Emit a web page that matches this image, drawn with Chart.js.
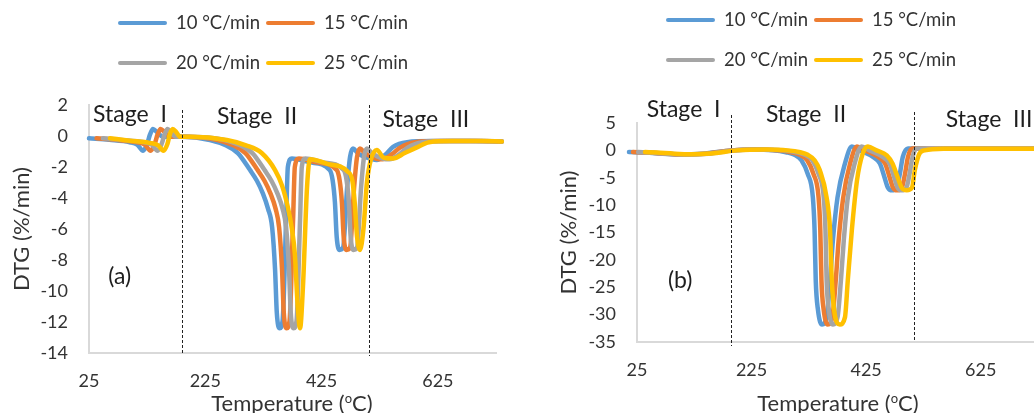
<!DOCTYPE html>
<html>
<head>
<meta charset="utf-8">
<title>DTG curves</title>
<script src="https://cdn.jsdelivr.net/npm/chart.js@4/dist/chart.umd.min.js"></script>
<style>
  body { margin: 0; background: #fff; }
  #wrap { position: relative; width: 1034px; height: 413px; overflow: hidden; font-family: Lato, sans-serif; color: #333; }
  canvas { position: absolute; top: 0; }
  #chartA { left: 0; }
  #chartB { left: 517px; }
  .legText { position: absolute; font-size: 18.5px; line-height: 20px; white-space: nowrap; }
  .legLine { position: absolute; height: 4px; border-radius: 2px; }
  .xtitle { position: absolute; font-size: 22px; line-height: 22px; white-space: nowrap; transform: translateX(-50%); }
  .xtitle sup { font-size: 13px; vertical-align: 8px; line-height: 0; }
</style>
</head>
<body>
<div id="wrap">
  <canvas id="chartA" width="517" height="413"></canvas>
  <canvas id="chartB" width="533" height="413"></canvas>
  <div class="xtitle" style="left:292px; top:392px">Temperature (<sup>o</sup>C)</div>
  <div class="xtitle" style="left:838px; top:392px">Temperature (<sup>o</sup>C)</div>
</div>
<script>
// series
const seriesNames = ["10 °C/min", "15 °C/min", "20 °C/min", "25 °C/min"];
const seriesColors = ["#5B9BD5", "#ED7D31", "#A5A5A5", "#FFC000"];

// axis ticks
const xTicks = [25, 225, 425, 625];
const yTicksA = [2, 0, -2, -4, -6, -8, -10, -12, -14];
const yTicksB = [5, 0, -5, -10, -15, -20, -25, -30, -35];

// stage boundaries (temperature)
const stageNames = ["Stage  I", "Stage  II", "Stage  III"];
const stagesA = [185, 507];
const stagesB = [189, 508];

// panel (a)
const tempA10 = [25, 60, 95, 108, 118, 125, 130, 135, 142, 152, 185, 233, 260, 281, 302, 314, 324, 333, 340, 345, 348, 353, 358, 364, 367, 374, 405, 439, 444, 448, 451, 456, 462, 469, 474, 479, 487, 496, 508, 520, 535, 548, 572, 616, 680, 735];
const dtgA10 = [-0.15, -0.25, -0.4, -0.55, -0.95, -0.5, 0.1, 0.45, 0.25, -0.05, -0.05, -0.26, -0.6, -1.1, -2.2, -2.9, -3.7, -4.7, -5.9, -8.6, -11.4, -12.4, -11.9, -5.4, -2.0, -1.45, -1.7, -2.2, -2.85, -4.3, -6.5, -7.35, -7.2, -3.3, -1.35, -0.8, -1.1, -1.3, -1.45, -1.55, -1.2, -0.7, -0.4, -0.33, -0.33, -0.35];
const tempA15 = [38, 70, 108, 121, 131, 138, 143, 148, 155, 164, 190, 246, 273, 294, 315, 327, 337, 346, 352, 357, 360, 365, 370, 376, 379, 386, 416, 451, 456, 460, 463, 468, 474, 481, 486, 491, 499, 508, 518, 530, 545, 560, 585, 630, 690, 735];
const dtgA15 = [-0.15, -0.25, -0.4, -0.55, -0.95, -0.5, 0.1, 0.45, 0.25, -0.05, -0.05, -0.26, -0.6, -1.1, -2.2, -2.9, -3.7, -4.7, -5.9, -8.6, -11.4, -12.4, -11.9, -5.4, -2.0, -1.45, -1.7, -2.2, -2.85, -4.3, -6.5, -7.35, -7.2, -3.3, -1.35, -0.8, -1.1, -1.3, -1.45, -1.5, -1.2, -0.75, -0.4, -0.33, -0.33, -0.35];
const tempA20 = [49, 80, 120, 133, 143, 150, 155, 160, 166, 174, 195, 258, 285, 306, 327, 339, 349, 358, 364, 369, 372, 377, 382, 388, 391, 397, 428, 463, 468, 472, 475, 480, 486, 493, 498, 503, 511, 520, 530, 542, 558, 573, 598, 642, 700, 735];
const dtgA20 = [-0.15, -0.25, -0.4, -0.55, -0.95, -0.5, 0.1, 0.45, 0.25, -0.05, -0.05, -0.26, -0.6, -1.1, -2.2, -2.9, -3.7, -4.7, -5.9, -8.6, -11.4, -12.4, -11.9, -5.4, -2.0, -1.45, -1.7, -2.2, -2.85, -4.3, -6.5, -7.35, -7.2, -3.3, -1.35, -0.8, -1.1, -1.3, -1.45, -1.5, -1.2, -0.75, -0.4, -0.33, -0.33, -0.35];
const tempA25 = [61, 95, 130, 144, 153, 160, 164, 169, 175, 182, 200, 262, 295, 322, 345, 357, 367, 374, 379, 384, 388, 393, 400, 405, 435, 470, 478, 482, 486, 491, 497, 503, 510, 520, 532, 548, 568, 588, 610, 650, 700, 735];
const dtgA25 = [-0.15, -0.3, -0.45, -0.6, -0.95, -0.5, 0.1, 0.45, 0.25, -0.05, -0.05, -0.26, -0.6, -1.1, -2.2, -3.2, -4.6, -6.0, -7.6, -11.0, -12.4, -9.7, -3.3, -1.5, -1.8, -2.3, -2.9, -4.3, -6.5, -7.35, -6.0, -3.0, -1.5, -0.9, -1.4, -1.45, -1.1, -0.75, -0.4, -0.33, -0.33, -0.35];

// panel (b)
const tempB10 = [11, 40, 70, 100, 140, 190, 230, 262, 285, 300, 312, 323, 332, 335, 337, 341, 348, 356, 362, 367, 375, 388, 400, 414, 437, 449, 457, 463, 470, 478, 484, 489, 498, 530, 600, 735];
const dtgB10 = [-0.3, -0.4, -0.6, -0.75, -0.6, 0.0, 0.15, 0.0, -0.35, -0.8, -1.8, -4.3, -8.6, -14.6, -23.7, -29.2, -31.8, -30.5, -23.7, -16.4, -8.6, -2.4, 0.7, 0.0, -1.2, -2.4, -4.9, -6.8, -7.3, -6.9, -4.2, -1.2, 0.35, 0.3, 0.3, 0.3];
const tempB15 = [18, 45, 75, 105, 145, 190, 235, 271, 294, 309, 322, 333, 342, 345, 347, 351, 358, 366, 372, 377, 385, 397, 409, 423, 446, 458, 466, 472, 479, 487, 493, 498, 505, 535, 600, 735];
const dtgB15 = [-0.3, -0.4, -0.6, -0.75, -0.6, 0.0, 0.15, 0.0, -0.35, -0.8, -1.8, -4.3, -8.6, -14.6, -23.7, -29.2, -31.8, -30.5, -23.7, -16.4, -8.6, -2.4, 0.7, 0.0, -1.2, -2.4, -4.9, -6.8, -7.3, -6.9, -4.2, -1.2, 0.35, 0.3, 0.3, 0.3];
const tempB20 = [27, 50, 80, 110, 150, 195, 240, 280, 303, 318, 331, 342, 351, 354, 356, 360, 367, 375, 381, 386, 393, 405, 417, 431, 454, 466, 474, 480, 487, 495, 501, 506, 513, 540, 600, 735];
const dtgB20 = [-0.3, -0.4, -0.6, -0.75, -0.6, 0.0, 0.15, 0.0, -0.35, -0.8, -1.8, -4.3, -8.6, -14.6, -23.7, -29.2, -31.8, -30.5, -23.7, -16.4, -8.6, -2.4, 0.7, 0.0, -1.2, -2.4, -4.9, -6.8, -7.3, -6.9, -4.2, -1.2, 0.35, 0.3, 0.3, 0.3];
const tempB25 = [39, 60, 90, 120, 155, 200, 250, 288, 310, 323, 335, 344, 356, 362, 365, 370, 379, 388, 393, 400, 409, 419, 428, 443, 461, 471, 480, 487, 496, 505, 510, 518, 527, 560, 620, 735];
const dtgB25 = [-0.3, -0.4, -0.6, -0.7, -0.55, 0.0, 0.15, 0.0, -0.35, -0.8, -1.8, -3.6, -8.6, -14.6, -23.7, -29.8, -31.8, -30.5, -23.7, -14.6, -5.5, -0.6, 0.7, 0.0, -0.9, -2.4, -4.9, -6.8, -7.3, -6.8, -3.6, -0.6, 0.0, 0.3, 0.3, 0.3];

const textColor = "#333";
Chart.defaults.font.family = "Lato, sans-serif";
Chart.defaults.color = textColor;

// dashed stage lines, stage names and panel tag
function stagePlugin(cfg) {
  return {
    id: "stages",
    afterDatasetsDraw(chart) {
      const ctx = chart.ctx, x = chart.scales.x, y = chart.scales.y;
      ctx.save();
      ctx.strokeStyle = "#222";
      ctx.lineWidth = 1;
      ctx.setLineDash([3, 2]);
      cfg.bounds.forEach((t, i) => {
        const px = Math.round(x.getPixelForValue(t)) + 0.5;
        ctx.beginPath();
        ctx.moveTo(px, cfg.lineTop[i]);
        ctx.lineTo(px, cfg.lineBottom[i]);
        ctx.stroke();
      });
      ctx.setLineDash([]);
      ctx.fillStyle = "#1e1e1e";
      ctx.textBaseline = "alphabetic";
      ctx.font = "23px Lato";
      stageNames.forEach((s, i) => {
        ctx.fillText(s, x.getPixelForValue(cfg.labelAt[i]), cfg.labelY[i]);
      });
      ctx.fillText(cfg.tag, x.getPixelForValue(cfg.tagAt[0]), y.getPixelForValue(cfg.tagAt[1]));
      ctx.restore();
    }
  };
}

function makeChart(id, temps, dtgs, yTicks, cfg) {
  return new Chart(document.getElementById(id), {
    type: "line",
    data: {
      datasets: seriesNames.map((name, i) => ({
        label: name,
        data: temps[i].map((t, k) => ({ x: t, y: dtgs[i][k] })),
        borderColor: seriesColors[i],
        borderWidth: 4.5,
        pointRadius: 0,
        cubicInterpolationMode: "monotone",
        borderCapStyle: "round",
        borderJoinStyle: "round",
        clip: false,
        order: seriesNames.length - 1 - i
      }))
    },
    options: {
      responsive: false,
      animation: false,
      layout: { padding: { left: 0, top: cfg.top, right: cfg.right, bottom: 0 } },
      plugins: { legend: { display: false }, tooltip: { enabled: false } },
      scales: {
        x: {
          type: "linear",
          min: 25,
          max: 725,
          afterBuildTicks: s => { s.ticks = xTicks.map(v => ({ value: v })); },
          ticks: { padding: 17, color: textColor, font: { size: 18 } },
          grid: { display: false, drawTicks: false },
          border: { color: "#d9d9d9", width: 2 },
          afterFit: s => { s.height = cfg.xh; }
        },
        y: {
          min: yTicks[yTicks.length - 1],
          max: yTicks[0],
          afterBuildTicks: s => { s.ticks = yTicks.map(v => ({ value: v })); },
          ticks: { padding: 21, color: textColor, font: { size: 18 } },
          grid: { display: false, drawTicks: false },
          border: { color: "#d9d9d9", width: 2 },
          title: { display: true, text: "DTG (%/min)", color: textColor, font: { size: 22 }, padding: { top: cfg.titlePad, bottom: 0 } },
          afterFit: s => { s.width = cfg.yw; }
        }
      }
    },
    plugins: [stagePlugin(cfg)]
  });
}

makeChart("chartA", [tempA10, tempA15, tempA20, tempA25], [dtgA10, dtgA15, dtgA20, dtgA25], yTicksA, {
  top: 105, right: 21, xh: 60, yw: 89, titlePad: 9,
  bounds: stagesA, lineTop: [110, 105], lineBottom: [353, 356],
  labelAt: [32, 245, 530], labelY: [122, 124, 127],
  tag: "(a)", tagAt: [58, -9.55]
});

makeChart("chartB", [tempB10, tempB15, tempB20, tempB25], [dtgB10, dtgB15, dtgB20, dtgB25], yTicksB, {
  top: 123, right: 12, xh: 71, yw: 120, titlePad: 39,
  bounds: stagesB, lineTop: [115, 112], lineBottom: [346, 341],
  labelAt: [42, 250, 564], labelY: [117, 122, 127],
  tag: "(b)", tagAt: [79, -25.2]
});

// legends: two columns, two rows per panel
function addLegend(left, top) {
  const wrap = document.getElementById("wrap");
  seriesNames.forEach((name, i) => {
    const x = left + (i % 2) * 148;
    const y = top + Math.floor(i / 2) * 40;
    const line = document.createElement("div");
    line.className = "legLine";
    line.style.cssText = "left:" + x + "px;top:" + (y - 2) + "px;width:49px;background:" + seriesColors[i];
    wrap.appendChild(line);
    const txt = document.createElement("div");
    txt.className = "legText";
    txt.style.cssText = "left:" + (x + 58) + "px;top:" + (y - 11) + "px";
    txt.textContent = name;
    wrap.appendChild(txt);
  });
}
addLegend(118, 23);
addLegend(666, 20);
</script>
</body>
</html>
